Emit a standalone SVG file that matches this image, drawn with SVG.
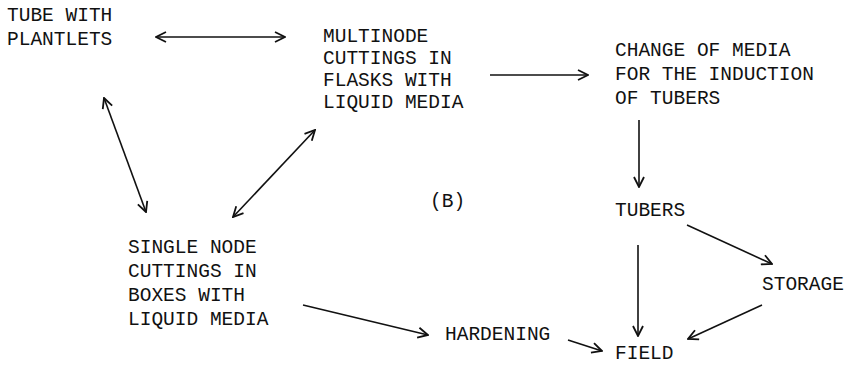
<svg xmlns="http://www.w3.org/2000/svg" width="854" height="366" viewBox="0 0 854 366">
<style>
  text { font-family: "Liberation Mono", "DejaVu Sans Mono", monospace; font-size: 19.5px; fill: #111; }
  .c line { stroke: #111; stroke-width: 1.6; fill: none; }
</style>
<defs>
  <marker id="ah" viewBox="0 0 12 12" refX="11" refY="6" markerWidth="12" markerHeight="12" markerUnits="userSpaceOnUse" orient="auto-start-reverse">
    <path d="M1,1 L11,6 L1,11" fill="none" stroke="#111" stroke-width="1.8"/>
  </marker>
</defs>
<rect width="854" height="366" fill="#fff"/>
<g id="tube">
  <text x="7" y="21">TUBE WITH</text>
  <text x="7" y="45">PLANTLETS</text>
</g>
<g id="multinode">
  <text x="323" y="42">MULTINODE</text>
  <text x="323" y="64">CUTTINGS IN</text>
  <text x="323" y="86">FLASKS WITH</text>
  <text x="323" y="108">LIQUID MEDIA</text>
</g>
<g id="change">
  <text x="615" y="56">CHANGE OF MEDIA</text>
  <text x="615" y="80">FOR THE INDUCTION</text>
  <text x="615" y="104">OF TUBERS</text>
</g>
<g id="label-b">
  <text x="430" y="207">(B)</text>
</g>
<g id="tubers">
  <text x="615" y="216">TUBERS</text>
</g>
<g id="single">
  <text x="128" y="253">SINGLE NODE</text>
  <text x="128" y="277">CUTTINGS IN</text>
  <text x="128" y="301">BOXES WITH</text>
  <text x="128" y="325">LIQUID MEDIA</text>
</g>
<g id="storage">
  <text x="762" y="290">STORAGE</text>
</g>
<g id="hardening">
  <text x="445" y="340">HARDENING</text>
</g>
<g id="field">
  <text x="615" y="359">FIELD</text>
</g>
<g class="c" id="connectors">
  <line x1="156" y1="37" x2="285" y2="37" marker-start="url(#ah)" marker-end="url(#ah)"/>
  <line x1="490" y1="75" x2="588" y2="75" marker-end="url(#ah)"/>
  <line x1="639" y1="120" x2="639" y2="187" marker-end="url(#ah)"/>
  <line x1="104" y1="98" x2="146" y2="212" marker-start="url(#ah)" marker-end="url(#ah)"/>
  <line x1="233" y1="217" x2="315" y2="130" marker-start="url(#ah)" marker-end="url(#ah)"/>
  <line x1="303" y1="305" x2="428" y2="335" marker-end="url(#ah)"/>
  <line x1="687" y1="225" x2="772" y2="264" marker-end="url(#ah)"/>
  <line x1="638" y1="245" x2="638" y2="336" marker-end="url(#ah)"/>
  <line x1="762" y1="305" x2="688" y2="339" marker-end="url(#ah)"/>
  <line x1="568" y1="340" x2="602" y2="351" marker-end="url(#ah)"/>
</g>
</svg>
